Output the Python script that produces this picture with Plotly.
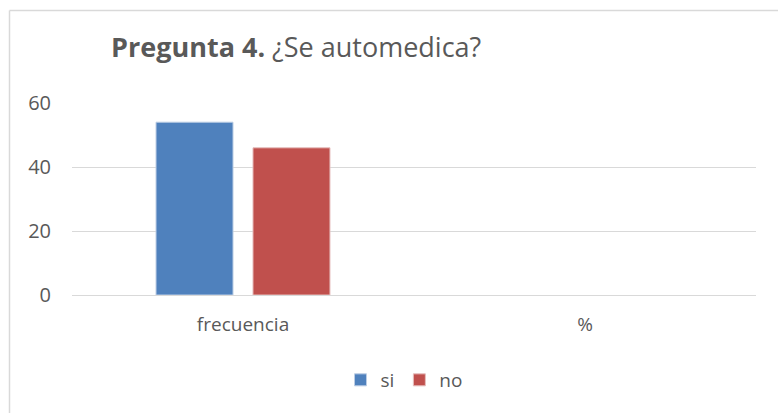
import plotly.graph_objects as go

categories = ["frecuencia", "%"]
si_values = [54, None]
no_values = [46, None]
series_names = ["si", "no"]
y_ticks = [0, 20, 40, 60]

W, H = 778, 413
ml, mr, mt, mb = 72, 22, 103, 118
pw, ph = W - ml - mr, H - mt - mb

def px_x(x):
    return (x - ml) / pw

def px_y(y):
    return (H - mb - y) / ph

font_family = "Open Sans, Noto Sans, sans-serif"
grey = "#595959"

fig = go.Figure()
fig.add_trace(go.Bar(x=categories, y=si_values, name=series_names[0],
                     marker=dict(color="#4F81BD", line=dict(color="#BCCDE4", width=1))))
fig.add_trace(go.Bar(x=categories, y=no_values, name=series_names[1],
                     marker=dict(color="#C0504D", line=dict(color="#E6BEBD", width=1))))

fig.update_layout(
    width=W, height=H,
    margin=dict(l=ml, r=mr, t=mt, b=mb, pad=0),
    paper_bgcolor="white", plot_bgcolor="white",
    barmode="group", bargap=0.433, bargroupgap=0.206,
    font=dict(family=font_family, color=grey, size=20),
    title=dict(
        text="<b>Pregunta 4.</b> ¿Se automedica?",
        x=111 / W, xref="container", xanchor="left",
        y=1 - 48 / H, yref="container", yanchor="middle",
        font=dict(family=font_family, size=27, color=grey),
    ),
    showlegend=True,
    legend=dict(orientation="h", x=px_x(404), xanchor="center",
                y=px_y(380), yanchor="middle",
                font=dict(size=19, color=grey), itemwidth=30,
                traceorder="normal"),
    xaxis=dict(showgrid=False, showline=False, ticks="",
               ticklabelstandoff=16,
               tickfont=dict(size=19, color=grey)),
    yaxis=dict(range=[0, 60], tickvals=y_ticks, showgrid=True,
               gridcolor="#D9D9D9", gridwidth=1, zeroline=True,
               zerolinecolor="#D9D9D9", zerolinewidth=1, showline=False,
               ticks="", ticklabelstandoff=20,
               tickfont=dict(size=20, color=grey)),
    shapes=[
        dict(type="line", xref="paper", yref="paper",
             x0=px_x(9.5), x1=px_x(W + 5), y0=px_y(10.5), y1=px_y(10.5),
             line=dict(color="#D9D9D9", width=1.5)),
        dict(type="line", xref="paper", yref="paper",
             x0=px_x(9.5), x1=px_x(9.5), y0=px_y(10.5), y1=px_y(H + 5),
             line=dict(color="#D9D9D9", width=1.5)),
    ],
)

fig.write_html("out.html",
               config={"displayModeBar": False},
               post_script="document.body.style.margin='0';document.body.style.overflow='hidden';")
